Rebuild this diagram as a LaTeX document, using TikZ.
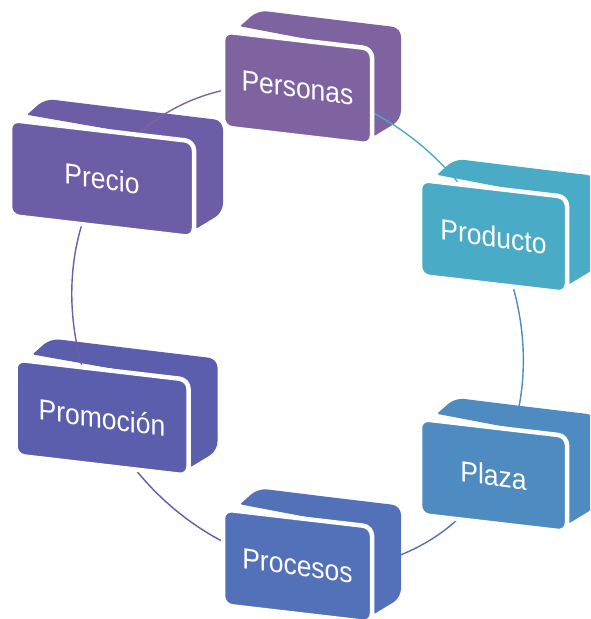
\documentclass[tikz,border=0pt]{standalone}
\usepackage{fontspec}
\setmainfont{Liberation Sans}
\definecolor{cPers}{HTML}{7F63A1}
\definecolor{cPrec}{HTML}{6C5DA6}
\definecolor{cProm}{HTML}{5A5EAC}
\definecolor{cProc}{HTML}{5271B8}
\definecolor{cPlaz}{HTML}{4E8BC0}
\definecolor{cProd}{HTML}{4AABC6}
% back part (top band and right side) of an extruded box: cx, cy, half width, colour
\newcommand\BoxBack[4]{\fill[#4, rounded corners=9pt]
  (#1+31,#2-69) -- (#1+#3+31,#2-69+0.12*#3)
  -- (#1+#3+31,#2+23+0.12*#3) -- (#1+#3-2,#2+43+0.12*#3) -- (#1+#3-8,#2-38+0.12*#3)
  -- (#1+#3-12,#2-48+0.12*#3) [rounded corners=1.5pt] -- (#1-#3+15,#2-53-0.12*#3)
  [rounded corners=9pt] -- (#1-#3+33,#2-69-0.12*#3) -- cycle;}
% front face
\newcommand\BoxFront[4]{\filldraw[fill=#4, draw=white, line width=4.5pt, rounded corners=9pt]
  (#1-#3-2,#2-48-0.12*#3) -- (#1+#3+2,#2-48+0.12*#3) -- (#1+#3+2,#2+48+0.12*#3)
  -- (#1-#3-2,#2+48-0.12*#3) -- cycle;}
\begin{document}
\begin{tikzpicture}[x=1pt,y=-1pt,
  arcline/.style={line width=1.4pt},
  lbl/.style={text=white, font=\fontsize{26.5}{30}\selectfont, inner sep=0pt,
    yslant=-0.14, yscale=1.1}]
\useasboundingbox (0,0) rectangle (590,619);
\clip (0,0) rectangle (590,619);
\coordinate (cPersonas) at (297.5,88);
\coordinate (cProducto) at (493.5,236.4);
\coordinate (cPlaza)    at (493.5,475.4);
\coordinate (cProcesos) at (297.5,566);
\coordinate (cPromocion) at (102,417.6);
\coordinate (cPrecio)   at (102,178.6);
% back parts
\BoxBack{297.5}{88}{72.5}{cPers}
\BoxBack{493.5}{236.4}{71.5}{cProd}
\BoxBack{493.5}{475.4}{71.5}{cPlaz}
\BoxBack{297.5}{566}{72.5}{cProc}
\BoxBack{102}{417.6}{84.5}{cProm}
\BoxBack{102}{178.6}{90}{cPrec}
% cycle arcs
\draw[arcline, cProd] (cPersonas) .. controls (378.1,99.9) and (452.7,156.5) .. (cProducto);
\draw[arcline, cPlaz] (cProducto) .. controls (533.3,316.3) and (533.3,407.4) .. (cPlaza);
\draw[arcline, cProc] (cPlaza) .. controls (452.7,543.4) and (378.1,577.9) .. (cProcesos);
\draw[arcline, cProm] (cProcesos) .. controls (216.9,554.1) and (142.3,497.5) .. (cPromocion);
\draw[arcline, cPrec] (cPromocion) .. controls (61.7,337.7) and (61.7,246.6) .. (cPrecio);
\draw[arcline, cPers] (cPrecio) .. controls (142.3,110.6) and (216.9,76.1) .. (cPersonas);
% front faces
\BoxFront{297.5}{88}{72.5}{cPers}
\BoxFront{493.5}{236.4}{71.5}{cProd}
\BoxFront{493.5}{475.4}{71.5}{cPlaz}
\BoxFront{297.5}{566}{72.5}{cProc}
\BoxFront{102}{417.6}{84.5}{cProm}
\BoxFront{102}{178.6}{90}{cPrec}
% labels
\node[lbl] (personas)  at (cPersonas)  {Personas};
\node[lbl] (producto)  at (cProducto)  {Producto};
\node[lbl] (plaza)     at (cPlaza)     {Plaza};
\node[lbl] (procesos)  at (cProcesos)  {Procesos};
\node[lbl] (promocion) at (cPromocion) {Promoción};
\node[lbl] (precio)    at (cPrecio)    {Precio};
\end{tikzpicture}
\end{document}
